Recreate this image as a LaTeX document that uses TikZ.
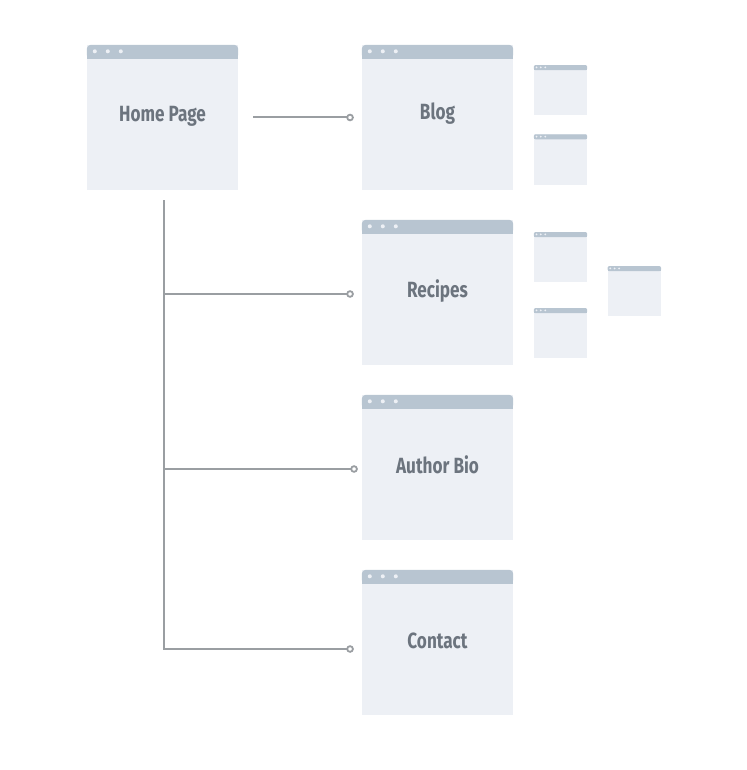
\documentclass[tikz,border=0pt]{standalone}
\usepackage{fontspec}
\setmainfont{Fira Sans}[FakeStretch=0.78]
\usetikzlibrary{arrows.meta}
\definecolor{pagebody}{HTML}{EDF0F5}
\definecolor{pagebar}{HTML}{B8C5D1}
\definecolor{pagetext}{HTML}{6C747E}
\definecolor{wirecol}{HTML}{9A9EA2}

\begin{document}
\begin{tikzpicture}[
        x=1pt, y=-1pt,
        page/.style={fill=pagebody, minimum width=151pt, minimum height=145pt, inner sep=0pt},
        thumb/.style={fill=pagebody, minimum width=53pt, minimum height=50pt, inner sep=0pt},
        title/.style={text=pagetext, font=\fontsize{22}{25}\selectfont\bfseries, inner sep=0pt, text height=15pt, text depth=0pt},
        wire/.style={draw=wirecol, line width=2pt, -{Circle[open, length=7.5pt, width=7.5pt, line width=1.8pt]}}
    ]
    \useasboundingbox (0,0) rectangle (746,770);

    \foreach \name/\x/\y/\ty/\txt in {home/162.5/117.5/3.5/Home Page, blog/437.5/117.5/5/Blog, recipes/437.5/292.5/3/Recipes, bio/437.5/467.5/2/Author Bio, contact/437.5/642.5/2/Contact} {
        \node[page] (\name) at (\x,\y) {};
        \fill[pagebar, rounded corners=4pt] (\name.north west) rectangle ([yshift=-14pt]\name.north east);
        \fill[pagebar] ([yshift=-7pt]\name.north west) rectangle ([yshift=-14pt]\name.north east);
        \foreach \d in {8,21,34}
            \fill[pagebody] ([xshift=\d pt, yshift=-6.5pt]\name.north west) circle (2pt);
        \node[title] (\name-t) at ([yshift=\ty pt]\name.center) {\txt};
    }

    \foreach \name/\x/\y in {blog-a/560.5/90.3, blog-b/560.5/159.5, recipes-a/560.5/257.3, recipes-b/560.5/333.3, recipes-c/634.3/291.3} {
        \node[thumb] (\name) at (\x,\y) {};
        \fill[pagebar, rounded corners=1.5pt] (\name.north west) rectangle ([yshift=-5pt]\name.north east);
        \fill[pagebar] ([yshift=-2.5pt]\name.north west) rectangle ([yshift=-5pt]\name.north east);
        \foreach \d in {2.7,7,11.5}
            \fill[pagebody] ([xshift=\d pt, yshift=-2.3pt]\name.north west) circle (1pt);
    }

    \coordinate (home-trunk) at ([xshift=1.5pt, yshift=-10pt]home.south);
    \coordinate (blog-in) at ([xshift=-8pt]blog.west);
    \coordinate (recipes-in) at ([xshift=-8pt, yshift=-1.5pt]recipes.west);
    \coordinate (bio-in) at ([xshift=-4pt, yshift=-1.5pt]bio.west);
    \coordinate (contact-in) at ([xshift=-8pt, yshift=-6.5pt]contact.west);

    \draw[wire] ([xshift=15pt]home.east) -- (blog-in);
    \draw[wire] (home-trunk) |- (contact-in);
    \draw[wire] (home-trunk |- recipes-in) -- (recipes-in);
    \draw[wire] (home-trunk |- bio-in) -- (bio-in);
\end{tikzpicture}
\end{document}
